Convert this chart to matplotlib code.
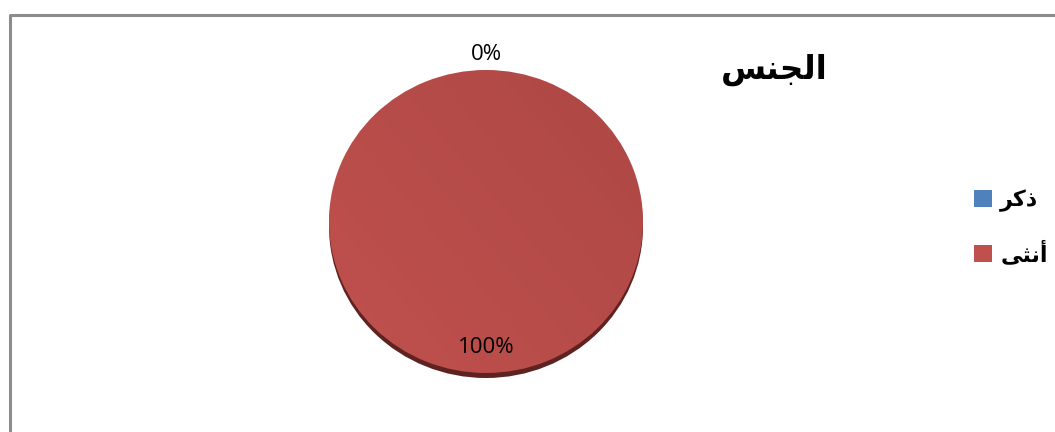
import numpy as np
import matplotlib.pyplot as plt
from matplotlib.patches import Ellipse, Patch
from matplotlib.transforms import Affine2D

# data (Arabic written as pre-shaped presentation forms, visual order)
title = '\uFEB2\uFEE8\uFEA0\uFEDF\uFE8D'                 # الجنس
categories = ['\uFEAE\uFEDB\uFEAB', '\uFEF0\uFE9C\uFEE7\uFE83']  # ذكر , أنثى
values = [0, 100]
colors = ['#4F81BD', '#C0504D']

W, H = 1055, 432
fig = plt.figure(figsize=(W / 100, H / 100), dpi=100)
ax = fig.add_axes([0, 0, 1, 1])

# chart frame
ax.plot([9.5, 9.5, W + 5], [-5, H - 14.5, H - 14.5], color='#8C8C8C', lw=2.2,
        solid_capstyle='butt')

cx, cy = 486, H - 221.5
rx, ry = 157, 151.5
tilt = Affine2D().scale(1, ry / rx).translate(cx, cy) + ax.transData

# 3D-ish thickness under the pie
ax.add_patch(Ellipse((cx, cy - 5), 2 * rx, 2 * ry, facecolor='#5E2321',
                     edgecolor='none', zorder=1))

wedges, texts = ax.pie(values, colors=colors, startangle=90, counterclock=False,
                       center=(0, 0), radius=rx, frame=True,
                       wedgeprops=dict(linewidth=0, zorder=2))
for w in wedges:
    w.set_transform(tilt)
ax.set_xlim(0, W)
ax.set_ylim(0, H)
ax.set_aspect('equal')
ax.axis('off')

# soft gradient over the red slice
yy, xx = np.mgrid[0:1:200j, 0:1:200j]
grad = np.zeros((200, 200, 4))
grad[..., 3] = 0.10 * (0.55 * xx + 0.45 * (1 - yy))
img = ax.imshow(grad, extent=(cx - rx, cx + rx, cy - ry, cy + ry), origin='upper', zorder=3)
img.set_clip_path(Ellipse((cx, cy), 2 * rx, 2 * ry, transform=ax.transData))

# percent labels
total = float(sum(values))
angle = 90
for v, dist in zip(values, [1.105, 0.83]):
    span = 360 * v / total
    mid = np.deg2rad(angle - span / 2)
    ax.text(cx + dist * rx * np.cos(mid), cy + dist * ry * np.sin(mid),
            '%d%%' % round(100 * v / total), ha='center', va='center',
            fontsize=16, family='Open Sans', zorder=5)
    angle -= span

ax.text(774, H - 70, title, ha='center', va='center', fontsize=23.5,
        fontweight='bold', family='DejaVu Sans')

handles = [Patch(facecolor=c, edgecolor='none') for c in colors]
leg = ax.legend(handles, categories, loc='center left',
                bbox_to_anchor=(974 / W, (H - 227.5) / H),
                frameon=False, borderpad=0, borderaxespad=0,
                handlelength=0.82, handleheight=0.82, handletextpad=0.36,
                labelspacing=1.27, prop=dict(family='DejaVu Sans', weight='bold', size=16))

fig.savefig('out.png', dpi=100)
